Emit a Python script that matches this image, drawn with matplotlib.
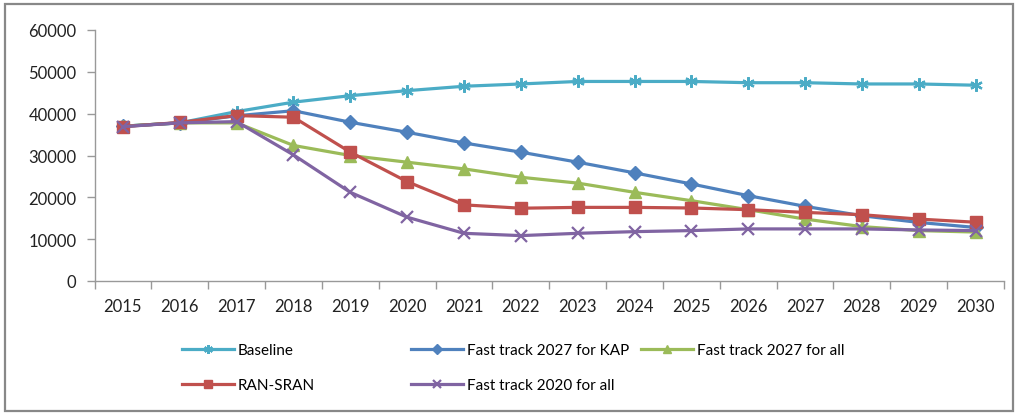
import matplotlib
matplotlib.use("Agg")
import matplotlib.pyplot as plt
from matplotlib.patches import Rectangle
from matplotlib.ticker import MultipleLocator

# data
years = [str(y) for y in range(2015, 2031)]
baseline = [37000, 37800, 40500, 42750, 44300, 45500, 46550, 47100,
            47700, 47700, 47700, 47400, 47400, 47100, 47100, 46800]
kap_2027 = [37000, 37800, 39500, 40700, 37950, 35550, 33000, 30800,
            28400, 25850, 23200, 20400, 17850, 15600, 14000, 12800]
all_2027 = [37000, 37800, 37800, 32400, 30000, 28400, 26800, 24800,
            23400, 21200, 19200, 17050, 14800, 13000, 12050, 11700]
ran_sran = [36900, 37900, 39550, 39150, 30800, 23750, 18200, 17400,
            17600, 17600, 17450, 17050, 16400, 15850, 14800, 14050]
all_2020 = [36900, 37800, 38100, 30150, 21200, 15250, 11400, 10850,
            11400, 11800, 12050, 12450, 12450, 12450, 12200, 12050]

plt.rcParams['font.family'] = ['Lato', 'DejaVu Sans']

fig = plt.figure(figsize=(10.2, 4.14), dpi=100)
ax = fig.add_axes([94.5 / 1020, 1 - 282 / 414, (1004 - 94.5) / 1020, (282 - 31) / 414])

x = list(range(len(years)))
lw = 2.3
l_base, = ax.plot(x, baseline, color='#4BACC6', lw=lw, marker=(6, 2, 0), ms=9, mew=1.6, label='Baseline')
l_kap, = ax.plot(x, kap_2027, color='#4F81BD', lw=lw, marker='D', ms=7, label='Fast track 2027 for KAP')
l_all27, = ax.plot(x, all_2027, color='#9BBB59', lw=lw, marker='^', ms=9, label='Fast track 2027 for all')
l_ran, = ax.plot(x, ran_sran, color='#C0504D', lw=lw, marker='s', ms=9, label='RAN-SRAN')
l_all20, = ax.plot(x, all_2020, color='#8064A2', lw=lw, marker='x', ms=8, mew=1.6, label='Fast track 2020 for all')

ax.set_xlim(-0.5, len(years) - 0.5)
ax.set_ylim(0, 60000)
ax.yaxis.set_major_locator(MultipleLocator(10000))
ax.set_xticks(x)
ax.set_xticklabels(years)
ax.set_xticks([i - 0.5 for i in range(len(years) + 1)], minor=True)
ax.tick_params(axis='x', which='major', length=0, pad=12, labelsize=12, colors='#222222')
ax.tick_params(axis='x', which='minor', length=6, width=1, color='#999999')
ax.tick_params(axis='y', which='major', length=6, width=1, color='#999999', pad=7, labelsize=12, labelcolor='#222222')
for s in ['top', 'right']:
    ax.spines[s].set_visible(False)
for s in ['left', 'bottom']:
    ax.spines[s].set_color('#999999')
    ax.spines[s].set_linewidth(1)

# legend drawn as three columns like the Excel layout
leg_kw = dict(loc='upper left', frameon=False, fontsize=11, handlelength=3.4,
              handletextpad=0.25, labelspacing=1.4, borderpad=0, borderaxespad=0)
cols = [([l_base, l_ran], 182), ([l_kap, l_all20], 411), ([l_all27], 641)]
for handles, px in cols:
    lg = fig.legend(handles=handles, bbox_to_anchor=(px / 1020, 1 - 344 / 414), **leg_kw)
    for h in lg.legend_handles:
        h.set_markersize(h.get_markersize() * 0.7)

fig.add_artist(Rectangle((5 / 1020, 2 / 414), 1008 / 1020, 407 / 414, transform=fig.transFigure,
                         fill=False, edgecolor='#888888', lw=1.6))

fig.savefig('out.png', dpi=100)
